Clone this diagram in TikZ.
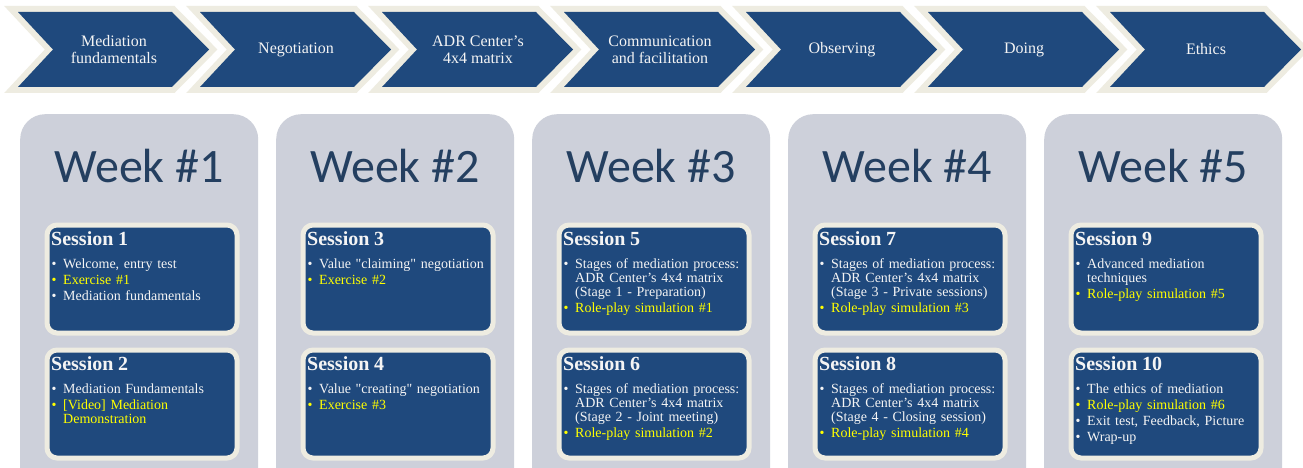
\documentclass[tikz,border=0pt]{standalone}
\usepackage{fontspec}
\setmainfont{Liberation Serif}
\newfontfamily\weekfont{Carlito}
\definecolor{dkblue}{HTML}{1F497D}
\definecolor{cream}{HTML}{EEECE1}
\definecolor{cardgray}{HTML}{CDD0DA}
\definecolor{weektxt}{HTML}{243F60}
\definecolor{txtw}{HTML}{F4F4F4}
\definecolor{txty}{HTML}{FFFF00}
\newcommand\nl{\hfil\break}
\newcommand\itm[2][txtw]{\par\vspace{2pt}{\leftskip=12pt\noindent\hspace*{-12pt}\makebox[12pt][l]{\hspace{0.5pt}\textcolor{#1}{\textbullet}}\textcolor{#1}{#2}\par}}
\newcommand\sesstitle[1]{{\fontsize{20}{20}\selectfont\bfseries\color{txtw}#1\par}\vspace{7pt}}
\tikzset{
  chevback/.style={fill=cream, draw=cream, line width=12pt, line join=miter},
  chevfront/.style={fill=dkblue},
  chevtext/.style={text=txtw, font=\fontsize{16}{17}\selectfont, align=center, inner sep=0pt},
  card/.style={fill=cardgray, rounded corners=25pt, anchor=north west, minimum width=238pt, minimum height=400pt, inner sep=0pt},
  weektitle/.style={text=weektxt, font=\weekfont\fontsize{48}{50}\selectfont, anchor=base, inner sep=0pt},
  sbox/.style={fill=dkblue, draw=cream, line width=5pt, rounded corners=10pt, anchor=north west, minimum width=190pt, minimum height=108pt, inner sep=0pt},
  stext/.style={anchor=north west, text width=205pt, inner sep=0pt, font=\fontsize{14}{14}\selectfont, execute at begin node={\setlength\parindent{0pt}\setlength\parskip{0pt}}},
}
\newcommand\chev[3]{%
  \path[chevback] (#2,12) -- ++(154,0) -- ++(37,37.5) -- ++(-37,37.5) -- ++(-154,0) -- ++(35,-37.5) -- cycle;
  \path[chevfront] (#2,12) -- ++(154,0) -- ++(37,37.5) -- ++(-37,37.5) -- ++(-154,0) -- ++(35,-37.5) -- cycle;
  \node[chevtext] (#1) at ([xshift=96pt]#2,49.5) {#3};
}
\begin{document}
\begin{tikzpicture}[x=1pt,y=-1pt]
\useasboundingbox (0,0) rectangle (1303,468);
\clip (0,0) rectangle (1303,468);
\fill[white] (0,0) rectangle (1303,468);

% chevrons
\chev{c1}{18}{Mediation\\fundamentals}
\chev{c2}{200}{Negotiation}
\chev{c3}{382}{ADR Center's\\4x4 matrix}
\chev{c4}{564}{Communication\\and facilitation}
\chev{c5}{746}{Observing}
\chev{c6}{928}{Doing}
\chev{c7}{1110}{Ethics}

% week cards
\node[card] (wk1) at (20,114) {};
\node[card] (wk2) at (276,114) {};
\node[card] (wk3) at (532,114) {};
\node[card] (wk4) at (788,114) {};
\node[card] (wk5) at (1044,114) {};

\node[weektitle] (wt1) at (139,182) {Week \#1};
\node[weektitle] (wt2) at (395,182) {Week \#2};
\node[weektitle] (wt3) at (651,182) {Week \#3};
\node[weektitle] (wt4) at (907,182) {Week \#4};
\node[weektitle] (wt5) at (1163,182) {Week \#5};

% session boxes
\node[sbox] (s1) at (44.5,222.5) {};
\node[sbox] (s2) at (44.5,347.5) {};
\node[sbox] (s3) at (300.5,222.5) {};
\node[sbox] (s4) at (300.5,347.5) {};
\node[sbox] (s5) at (556.5,222.5) {};
\node[sbox] (s6) at (556.5,347.5) {};
\node[sbox] (s7) at (812.5,222.5) {};
\node[sbox] (s8) at (812.5,347.5) {};
\node[sbox] (s9) at (1068.5,222.5) {};
\node[sbox] (s10) at (1068.5,347.5) {};

% session texts
\node[stext] (t1) at (51,231) {\sesstitle{Session 1}\itm{Welcome, entry test}\itm[txty]{Exercise \#1}\itm{Mediation fundamentals}};
\node[stext] (t2) at (51,356) {\sesstitle{Session 2}\itm{Mediation Fundamentals}\itm[txty]{[Video] Mediation\nl Demonstration}};
\node[stext] (t3) at (307,231) {\sesstitle{Session 3}\itm{Value \textquotedbl claiming\textquotedbl{} negotiation}\itm[txty]{Exercise \#2}};
\node[stext] (t4) at (307,356) {\sesstitle{Session 4}\itm{Value \textquotedbl creating\textquotedbl{} negotiation}\itm[txty]{Exercise \#3}};
\node[stext] (t5) at (563,231) {\sesstitle{Session 5}\itm{Stages of mediation process:\nl ADR Center's 4x4 matrix\nl (Stage 1 - Preparation)}\itm[txty]{Role-play simulation \#1}};
\node[stext] (t6) at (563,356) {\sesstitle{Session 6}\itm{Stages of mediation process:\nl ADR Center's 4x4 matrix\nl (Stage 2 - Joint meeting)}\itm[txty]{Role-play simulation \#2}};
\node[stext] (t7) at (819,231) {\sesstitle{Session 7}\itm{Stages of mediation process:\nl ADR Center's 4x4 matrix\nl (Stage 3 - Private sessions)}\itm[txty]{Role-play simulation \#3}};
\node[stext] (t8) at (819,356) {\sesstitle{Session 8}\itm{Stages of mediation process:\nl ADR Center's 4x4 matrix\nl (Stage 4 - Closing session)}\itm[txty]{Role-play simulation \#4}};
\node[stext] (t9) at (1075,231) {\sesstitle{Session 9}\itm{Advanced mediation\nl techniques}\itm[txty]{Role-play simulation \#5}};
\node[stext] (t10) at (1075,356) {\sesstitle{Session 10}\itm{The ethics of mediation}\itm[txty]{Role-play simulation \#6}\itm{Exit test, Feedback, Picture}\itm{Wrap-up}};
\end{tikzpicture}
\end{document}
